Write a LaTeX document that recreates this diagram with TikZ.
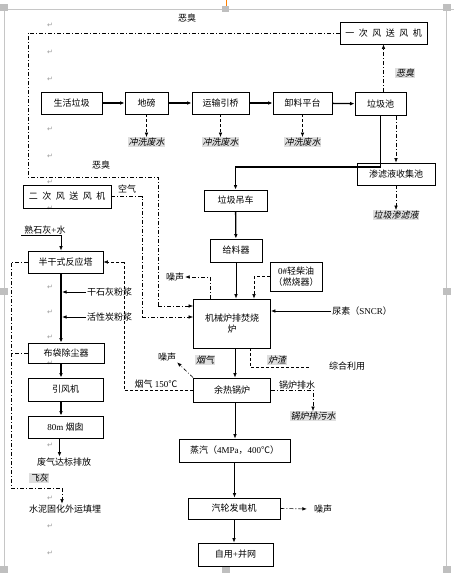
\documentclass[tikz,border=0pt]{standalone}
\usepackage{fontspec}
\setmainfont{Liberation Serif}
\newfontfamily\cjk{Noto Sans CJK SC}
\newfontfamily\cjkslant[FakeSlant=0.2]{Noto Sans CJK SC}
\newfontfamily\parafont{DejaVu Sans}
\usetikzlibrary{arrows.meta,calc}
\newcommand{\gap}{\hspace{4.5pt}}

\begin{document}
\begin{tikzpicture}[x=1pt, y=-1pt,
    every node/.style={font=\cjk\fontsize{9}{11}\selectfont, inner sep=1pt},
    box/.style={draw, line width=0.8pt, minimum height=22pt, inner sep=2pt},
    hilite/.style={fill=gray!25, inner sep=0.6pt, font=\cjkslant\fontsize{9}{11}\selectfont},
    arr/.style={-{Latex[length=4.5pt,width=3.6pt]}},
    main/.style={arr, line width=1.3pt},
    flow/.style={arr, line width=0.8pt},
    dashdot/.style={line width=0.6pt, dash pattern=on 4pt off 2pt on 1pt off 2pt},
    brokenline/.style={line width=0.6pt, dash pattern=on 3pt off 2pt},
    frame/.style={gray!45, line width=0.6pt}]
    \useasboundingbox (0,0) rectangle (454,588);

    % Word page frame
    \draw[frame] (0,9) -- (454,9);
    \draw[frame] (4,9) -- (4,570);
    \draw[frame] (446,9) -- (446,570);
    \foreach \x/\y in {0/4, 443/4, 0/288, 443/288, 0/566, 222/566, 443/566}
        \fill[gray!50] (\x,\y) rectangle ++(8,7);
    \fill[gray!50] (222,6) rectangle ++(7,6);
    \draw[orange, line width=0.6pt] (226,0) -- (226,6);
    \foreach \y in {25,52,79,129,156,182,208,287,312,337,363,445,498,526,553}
        \node[gray!80, font=\parafont\fontsize{7}{8}\selectfont] (mark\y) at (50,\y) {↵};

    % Waste reception line
    \node[box, minimum width=87pt] (fan1) at (383.5,33) {一\gap 次\gap 风\gap 送\gap 风\gap 机};
    \node[box, minimum width=61pt] (msw) at (71.5,103) {生活垃圾};
    \node[box, minimum width=43pt] (weigh) at (146.5,103) {地磅};
    \node[box, minimum width=57pt] (bridge) at (220.5,103) {运输引桥};
    \node[box, minimum width=59pt] (platform) at (302.5,103) {卸料平台};
    \node[box, minimum width=51pt, minimum height=23pt] (pit) at (380.5,104) {垃圾池};
    \draw[main] (msw) -- (weigh);
    \draw[main] (weigh) -- (bridge);
    \draw[main] (bridge) -- (platform);
    \draw[main] (platform) -- (pit);

    % Wash water
    \node[hilite] (wash1) at (146.5,142) {冲洗废水};
    \node[hilite] (wash2) at (220.5,142) {冲洗废水};
    \node[hilite] (wash3) at (302.5,142) {冲洗废水};
    \draw[arr, brokenline] (weigh) -- (wash1);
    \draw[arr, brokenline] (bridge) -- (wash2);
    \draw[arr, brokenline] (platform) -- (wash3);

    % Odour from the pit
    \node (odour1) at (187,18) {恶臭};
    \node (odour2) at (101,165) {恶臭};
    \node[hilite] (odour3) at (405,73) {恶臭};
    \draw[arr, dashdot] (pit.north -| fan1.south) -- (fan1.south);

    % Leachate
    \node[box, minimum width=78pt] (leach) at (396,174) {渗滤液收集池};
    \node[hilite] (leachate) at (396,215) {垃圾渗滤液};
    \draw[arr, dashdot] (pit.south -| leach.north) -- (leach.north);
    \draw[arr, dashdot] (leach) -- (leachate);

    % Crane and feeder
    \node[box, minimum width=63pt, minimum height=21pt] (crane) at (235.5,200.5) {垃圾吊车};
    \node[box, minimum width=52pt, minimum height=23pt] (feeder) at (236,250.5) {给料器};
    \node[box, minimum width=52pt, minimum height=29pt, align=center] (oil) at (296,276.5) {{\rmfamily 0\#}轻柴油\\（燃烧器）};
    \node[box, minimum width=77pt, minimum height=49pt, align=center] (furnace) at (232,323.5) {机械炉排焚烧\\炉};
    \draw[main] (pit.south) -- ++(0,51) -| (crane.north);
    \draw[main] (crane) -- (feeder);
    \draw[flow] (feeder.south) -- (feeder.south |- furnace.north);
    \draw[arr, brokenline] (oil.west) -| ([xshift=22pt]furnace.north);

    % Noise at the furnace
    \node (noise1) at (175,277) {噪声};
    \draw[arr, dashdot] ([xshift=-22pt]furnace.north) |- (noise1.east);

    % Urea
    \node (urea) at (362,311) {尿素（{\rmfamily SNCR}）};
    \draw[flow] (urea.west) -- (urea.west -| furnace.east);

    % Combustion air
    \node[box, minimum width=88pt, minimum height=23pt] (fan2) at (67,196.5) {二\gap 次\gap 风\gap 送\gap 风\gap 机};
    \node (air) at (127,189) {空气};
    \coordinate (odourL) at (28,177);
    \coordinate (odourbend) at (158,306);
    \coordinate (airbend) at (142,317);
    \draw[dashdot] (fan1.west) -| (odourL) -| (odourbend);
    \draw[arr, dashdot] (odourbend) -- (odourbend -| furnace.west);
    \draw[dashdot] (fan2.east) -| (airbend);
    \draw[arr, dashdot] (airbend) -- (airbend -| furnace.west);

    % Flue gas treatment
    \node (lime) at (45,230) {熟石灰{\rmfamily +}水};
    \node[box, minimum width=75pt] (reactor) at (65.5,262) {半干式反应塔};
    \node[anchor=west] (drylime) at (86,292) {干石灰粉浆};
    \node[anchor=west] (carbon) at (86,317) {活性炭粉浆};
    \node[box, minimum width=76pt, minimum height=20pt] (bag) at (66,353) {布袋除尘器};
    \node[box, minimum width=75pt, minimum height=23pt] (idfan) at (65.5,389.5) {引风机};
    \node[box, minimum width=75pt] (stack) at (65.5,427) {{\rmfamily 80m} 烟囱};
    \node (exhaust) at (64,462) {废气达标排放};
    \coordinate (dryin) at (62,292);
    \coordinate (carbonin) at (62,317);
    \coordinate (stackout) at ([xshift=-6pt]stack.south);
    \draw[flow] ([xshift=-2pt]lime.south west) -| ([xshift=-4.5pt]reactor.north);
    \draw[main] ([xshift=-4.5pt]reactor.south) -- ([xshift=-5pt]bag.north);
    \draw[flow] (drylime.west) -- (dryin);
    \draw[flow] (carbon.west) -- (carbonin);
    \draw[main] ([xshift=-5pt]bag.south) -- ([xshift=-4.5pt]idfan.north);
    \draw[main] ([xshift=-4.5pt]idfan.south) -- ([xshift=-4.5pt]stack.north);
    \draw[main] (stackout) -- (stackout |- exhaust.north);

    % Fly ash
    \node[hilite] (flyash) at (39,478) {飞灰};
    \node (cement) at (65,509) {水泥固化外运填埋};
    \coordinate (ashL) at (11,488);
    \coordinate (ashR) at (62,488);
    \draw[dashdot] (reactor.west) -| (ashL) -- (ashR);
    \draw[dashdot] (bag.west) -- (bag.west -| ashL);
    \draw[arr, dashdot] (ashR) -- (ashR |- cement.north);

    % Waste heat boiler
    \node[box, minimum width=77pt, minimum height=24pt] (boiler) at (232,390) {余热锅炉};
    \node[hilite] (flue) at (205,360) {烟气};
    \node[hilite] (slag) at (277,360) {炉渣};
    \node (reuse) at (347,366) {综合利用};
    \node (noise2) at (167,357) {噪声};
    \node (gas150) at (156,384) {烟气 {\rmfamily 150}℃};
    \node (drain) at (297,385) {锅炉排水};
    \node[hilite] (blowdown) at (313,416) {锅炉排污水};
    \coordinate (slagend) at (310,367);
    \coordinate (gasbend) at (124,262);
    \draw[flow] ([xshift=3pt]furnace.south) -- ([xshift=3pt]boiler.north);
    \draw[brokenline] ([xshift=18pt]furnace.south) |- (slagend);
    \draw[arr, dashdot] (boiler.north west) -- (noise2.south east);
    \draw[brokenline] (boiler.west) -| (gasbend);
    \draw[arr, brokenline] (gasbend) -- (reactor.east);
    \draw[arr, dashdot] (boiler.east) -| (blowdown.north);

    % Steam and power
    \node[box, minimum width=111pt, minimum height=23pt] (steam) at (234.5,450.5) {蒸汽（{\rmfamily 4MPa}，{\rmfamily 400}℃）};
    \node[box, minimum width=92pt, minimum height=21pt] (turbine) at (234,508.5) {汽轮发电机};
    \node[box, minimum width=75pt, minimum height=23pt] (grid) at (235.5,554.5) {自用{\rmfamily +}并网};
    \node (noise3) at (323,509) {噪声};
    \draw[flow] ([xshift=3pt]boiler.south) -- ([xshift=3pt]boiler.south |- steam.north);
    \draw[flow] (steam.south) -- (steam.south |- turbine.north);
    \draw[flow] (turbine.south) -- (turbine.south |- grid.north);
    \draw[arr, dashdot, shorten >=6pt] (turbine.east) -- (noise3.west);
\end{tikzpicture}
\end{document}
